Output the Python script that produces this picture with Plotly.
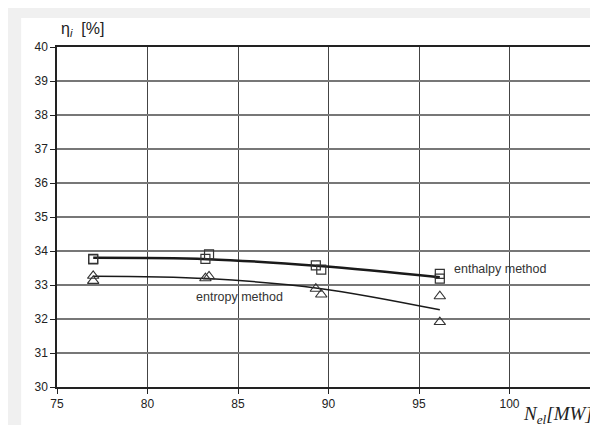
import plotly.graph_objects as go

# Measured points
enth_x = [77.0, 77.0, 83.2, 83.4, 89.3, 89.6, 96.15, 96.15]
enth_y = [33.77, 33.75, 33.77, 33.9, 33.58, 33.45, 33.33, 33.19]
entr_x = [77.0, 77.0, 83.2, 83.4, 89.3, 89.6, 96.15, 96.15]
entr_y = [33.27, 33.12, 33.2, 33.25, 32.89, 32.72, 32.67, 31.91]

# Trend curves
enth_fit_x = [77.0, 83.3, 89.5, 96.15]
enth_fit_y = [33.80, 33.76, 33.56, 33.23]
entr_fit_x = [77.0, 83.3, 89.5, 96.15]
entr_fit_y = [33.26, 33.19, 32.90, 32.27]

x_ticks = [75, 80, 85, 90, 95, 100, 105]
y_ticks = [30, 31, 32, 33, 34, 35, 36, 37, 38, 39, 40]

FONT = "Arial, Liberation Sans, sans-serif"
W, H = 598, 425
L, R, T, B = 49, 4, 39, 46
pw, ph = W - L - R, H - T - B

def px2paper_x(px):
    return (px - L) / pw

def py2paper_y(py):
    return (H - B - py) / ph

fig = go.Figure()

fig.add_trace(go.Scatter(x=enth_fit_x, y=enth_fit_y, mode="lines", line=dict(color="#1a1a1a", width=2.5, shape="spline"),
                         showlegend=False, hoverinfo="skip"))
fig.add_trace(go.Scatter(x=entr_fit_x, y=entr_fit_y, mode="lines", line=dict(color="#1a1a1a", width=1.5, shape="spline"),
                         showlegend=False, hoverinfo="skip"))
fig.add_trace(go.Scatter(x=enth_x, y=enth_y, mode="markers",
                         marker=dict(symbol="square-open", size=9, color="#333333", line=dict(width=1.2)),
                         showlegend=False))
fig.add_trace(go.Scatter(x=entr_x, y=entr_y, mode="markers",
                         marker=dict(symbol="triangle-up-open", size=10, color="#333333", line=dict(width=1.1)),
                         showlegend=False))

# white page area with gray border (top/left)
fig.add_shape(type="rect", xref="paper", yref="paper",
              x0=px2paper_x(13), x1=px2paper_x(W + 2), y0=py2paper_y(H + 2), y1=py2paper_y(10),
              fillcolor="white", line=dict(width=0), layer="below")

fig.add_annotation(text="enthalpy method", x=px2paper_x(445), y=py2paper_y(261), xref="paper", yref="paper",
                   xanchor="left", yanchor="middle", showarrow=False, font=dict(family=FONT, size=12.5, color="#333333"))
fig.add_annotation(text="entropy method", x=px2paper_x(187), y=py2paper_y(289), xref="paper", yref="paper",
                   xanchor="left", yanchor="middle", showarrow=False, font=dict(family=FONT, size=12.5, color="#333333"))
fig.add_annotation(text="η<sub><i>i</i></sub>  [%]", x=px2paper_x(51), y=py2paper_y(22), xref="paper", yref="paper",
                   xanchor="left", yanchor="middle", showarrow=False, font=dict(family=FONT, size=16, color="#222222"))
fig.add_annotation(text="<i>N</i><sub><i>el</i></sub><i>[MW]</i>", x=px2paper_x(589), y=py2paper_y(421), xref="paper", yref="paper",
                   xanchor="right", yanchor="bottom", showarrow=False,
                   font=dict(family="Liberation Serif, Times New Roman, serif", size=19, color="#222222"))

fig.update_layout(
    width=W, height=H,
    margin=dict(l=L, r=R, t=T, b=B, pad=0),
    paper_bgcolor="#f0f0f0", plot_bgcolor="white",
    font=dict(family=FONT, size=12, color="#222222"),
    showlegend=False,
)
fig.update_xaxes(range=[75, 105], tickvals=x_ticks, ticktext=[str(v) for v in x_ticks],
                 showgrid=True, gridcolor="#444444", gridwidth=1,
                 showline=True, linecolor="#222222", linewidth=1.5, mirror=True,
                 ticks="outside", ticklen=5, tickcolor="#222222", zeroline=False,
                 tickfont=dict(family=FONT, size=12, color="#222222"))
fig.update_yaxes(range=[30, 40], tickvals=y_ticks, ticktext=[str(v) for v in y_ticks],
                 showgrid=True, gridcolor="#777777", gridwidth=1.5,
                 showline=True, linecolor="#222222", linewidth=1.5, mirror=True,
                 ticks="outside", ticklen=5, tickcolor="#222222", zeroline=False,
                 tickfont=dict(family=FONT, size=12, color="#222222"))

fig.write_html("out.html")
